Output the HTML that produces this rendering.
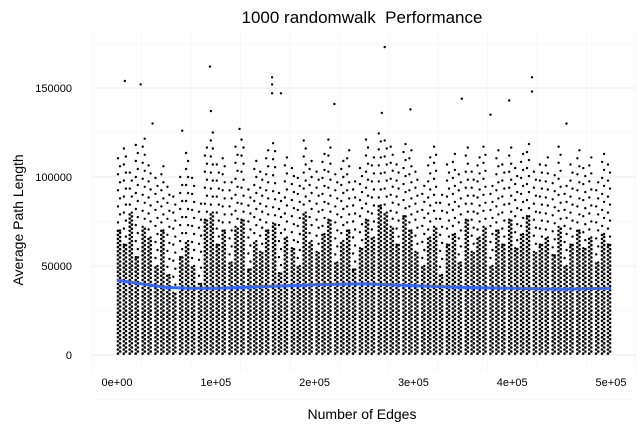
<!DOCTYPE html>
<html><head><meta charset="utf-8"><style>
body{margin:0;background:#fff;}
svg{display:block;font-family:"Liberation Sans",sans-serif;}
</style></head><body>
<svg id="chart" width="642" height="431" viewBox="0 0 642 431">
<text x="362" y="23" text-anchor="middle" font-size="17" fill="#000" style="white-space:pre">1000 randomwalk  Performance</text>
<text x="362" y="419" text-anchor="middle" font-size="14" fill="#000">Number of Edges</text>
<text transform="translate(23,220) rotate(-90)" text-anchor="middle" font-size="14" fill="#000">Average Path Length</text>
<g id="grid"></g><g id="pts"></g><g id="line"></g><g id="ticks"></g>
</svg>
<script>
// data (x in thousands of edges, y in thousands)
const stripX=[2,8,14,20,27,33,40,46,52,58,65,71,77,84,90,96,102,108,115,121,127,134,140,146,152,159,165,171,178,184,190,196,203,209,215,222,228,234,240,247,253,259,266,272,278,284,291,297,303,310,316,322,328,335,341,347,354,360,366,372,379,385,391,398,404,410,416,423,429,435,442,448,454,460,467,473,479,486,492,498];
const denseTop=[70,62,80,55,72,66,50,70,45,35,55,64,50,40,76,80,62,70,52,72,76,48,64,58,70,74,46,66,60,50,80,64,58,68,76,52,64,70,48,60,76,66,84,80,72,62,78,70,58,50,66,72,45,62,68,52,76,58,66,72,50,70,62,76,60,68,78,58,62,66,56,72,50,62,70,60,66,52,68,62];
const sparseTop=[112,120,105,118,125,108,100,110,95,90,102,115,100,85,120,125,108,112,100,118,122,96,110,105,116,120,94,112,106,100,122,110,104,114,124,102,110,116,98,108,122,112,126,124,118,110,120,116,104,98,112,118,94,108,114,102,120,104,112,118,98,116,110,120,106,114,120,104,108,112,102,118,98,108,116,106,112,100,114,110];
const outX=[8,24,94,95,157,157,157,166,220,271,268,297,349,397,420,420,455,378,36,66,124];
const outY=[154,152,162,137,156,152,147,147,141,173,136,138,144,143,156,148,130,135,130,126,127];
const fitX=[0,25,50,75,100,150,200,250,300,350,400,450,500];
const fitY=[42,40,38,37.5,37.5,38.5,39.5,40,39,38,37.5,37,37.5];
const xTicks=[0,100,200,300,400,500];
const xTickLabels=["0e+00","1e+05","2e+05","3e+05","4e+05","5e+05"];
const yTicks=[0,50,100,150];
const yTickLabels=["0","50000","100000","150000"];

const X=v=>117+v*494/500, Y=v=>355-v*1.78;
const NS="http://www.w3.org/2000/svg";
function mk(tag,attrs,parent){const e=document.createElementNS(NS,tag);for(const k in attrs)e.setAttribute(k,attrs[k]);parent.appendChild(e);return e;}
const grid=document.getElementById('grid');
for(let v=-25;v<=175;v+=25){const l=mk('line',{x1:93,x2:636,y1:Y(v),y2:Y(v),stroke:v%50===0?'#ebebeb':'#f4f4f4','stroke-width':v%50===0?1:0.6},grid);

}
for(let v=-25;v<=525;v+=50){const l=mk('line',{x1:X(v),x2:X(v),y1:30,y2:372,stroke:v%100===0?'#ebebeb':'#f4f4f4','stroke-width':v%100===0?1:0.6},grid);

}
const pts=document.getElementById('pts');
let d='';
const dot=(cx,cy,r)=>{d+=`M${(cx-r).toFixed(1)} ${cy.toFixed(1)}a${r} ${r} 0 1 0 ${2*r} 0a${r} ${r} 0 1 0 ${-2*r} 0`;};
stripX.forEach((sx,i)=>{
  const cx=X(sx);
  let k=0;
  for(let v=0.8;v<=denseTop[i];v+=1.15){dot(cx+((k%2)?1.1:-1.1),Y(v),1.3);k++;}
  for(let v=denseTop[i];v<=sparseTop[i];v+=4.5){dot(cx+((k%2)?1:-1),Y(v),1.2);k++;}
});
outX.forEach((ox,i)=>dot(X(ox),Y(outY[i]),1.2));
const p=mk('path',{d:d,fill:'#000'},pts);


const ln=mk('path',{d:fitX.map((v,i)=>(i?'L':'M')+X(v)+' '+Y(fitY[i])).join(''),fill:'none',stroke:'#3366ff','stroke-width':3},document.getElementById('line'));


const tk=document.getElementById('ticks');
xTicks.forEach((v,i)=>{const t=mk('text',{x:X(v),y:386,'text-anchor':'middle','font-size':11,fill:'#000'},tk);t.textContent=xTickLabels[i];

});
yTicks.forEach((v,i)=>{const t=mk('text',{x:72,y:Y(v)+4,'text-anchor':'end','font-size':11,fill:'#000'},tk);t.textContent=yTickLabels[i];

});
</script>
</body></html>
